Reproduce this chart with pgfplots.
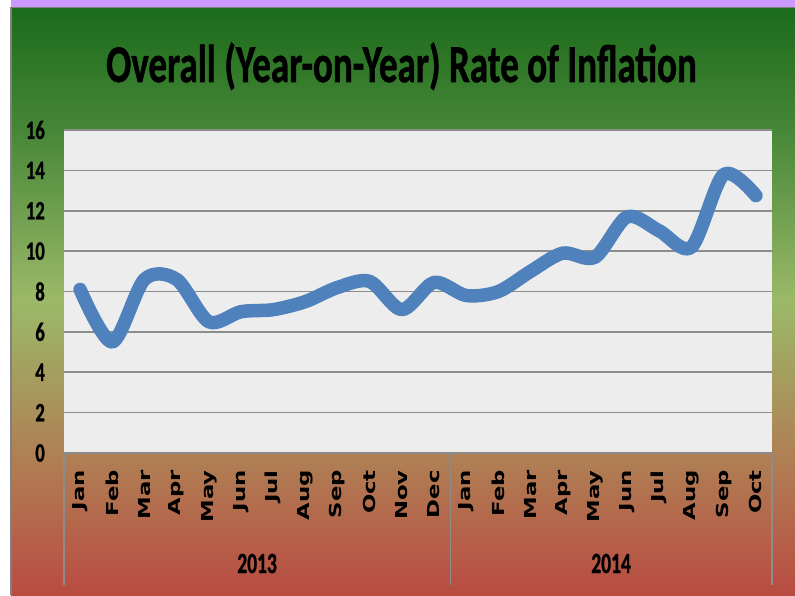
\documentclass[border=0pt]{standalone}
\usepackage{pgfplots}
\pgfplotsset{compat=1.18}
\usepackage{fontspec}
\newfontfamily\carlito[BoldFeatures={FakeBold=1.2}]{Carlito}
\newfontfamily\dejavu{DejaVu Sans}
\definecolor{linecol}{RGB}{79,129,189}
\definecolor{plotbg}{RGB}{237,237,237}
\definecolor{gridcol}{RGB}{140,140,140}
\definecolor{purplestrip}{RGB}{204,153,255}
\newcommand{\mlab}[1]{\scalebox{1.38}[1]{\dejavu\bfseries\fontsize{16.5}{18}\selectfont #1}}
\pgfdeclareverticalshading{chartbg}{100bp}{%
  rgb(0bp)=(0.725,0.294,0.255);
  rgb(25bp)=(0.725,0.294,0.255);
  rgb(37.35bp)=(0.686,0.510,0.333);
  rgb(50.1bp)=(0.608,0.725,0.412);
  rgb(64.6bp)=(0.275,0.529,0.216);
  rgb(75bp)=(0.106,0.420,0.106);
  rgb(100bp)=(0.106,0.420,0.106)}
\begin{document}
\begin{tikzpicture}[x=1pt,y=1pt]
\useasboundingbox (0,0) rectangle (795,595);
\fill[white] (0,0) rectangle (795,595);
\fill[purplestrip] (11,587) rectangle (795,595);
\shade[shading=chartbg] (11,0) rectangle (795,587);
\draw[gray, line width=1.2pt] (11,0) -- (11,587.5) -- (795,587.5);
\node[anchor=base] at (401.5,513) {\scalebox{1.01}[1.45]{\carlito\bfseries\fontsize{36.7}{40}\selectfont Overall (Year-on-Year) Rate of Inflation}};
\begin{axis}[
  at={(64pt,142pt)}, anchor=south west,
  width=708pt, height=323pt, scale only axis,
  xmin=-0.5, xmax=21.5, ymin=0, ymax=16,
  axis line style={draw=none},
  axis background/.style={fill=plotbg},
  xtick={0,...,21},
  xticklabels={\mlab{Jan},\mlab{Feb},\mlab{Mar},\mlab{Apr},\mlab{May},\mlab{Jun},\mlab{Jul},\mlab{Aug},\mlab{Sep},\mlab{Oct},\mlab{Nov},\mlab{Dec},\mlab{Jan},\mlab{Feb},\mlab{Mar},\mlab{Apr},\mlab{May},\mlab{Jun},\mlab{Jul},\mlab{Aug},\mlab{Sep},\mlab{Oct}},
  xticklabel style={inner sep=0pt, anchor=east, yshift=-17pt, rotate=90},
  ytick={0,2,...,16},
  yticklabel={\scalebox{1}[1.42]{\carlito\bfseries\fontsize{18.7}{20}\selectfont\pgfmathprintnumber[assume math mode=true]{\tick}}},
  yticklabel style={inner sep=0pt, anchor=east, xshift=-19pt},
  major tick length=0pt,
  ymajorgrids,
  major grid style={gridcol, line width=1.6pt},
  clip=false,
]
\addplot[linecol, line width=13.5pt, line cap=round, line join=round, smooth, tension=0.5] coordinates {
(0,8.1) (1,5.5) (2,8.6) (3,8.6) (4,6.5) (5,7.0) (6,7.1) (7,7.5) (8,8.2) (9,8.5) (10,7.1) (11,8.45)
(12,7.8) (13,8.0) (14,9.0) (15,9.9) (16,9.7) (17,11.7) (18,11.0) (19,10.2) (20,13.8) (21,12.75)
};
\draw[gridcol, line width=2.5pt] (axis cs:-0.5,0) -- (axis cs:21.5,0);
\draw[gridcol, line width=1.2pt] (axis cs:-0.5,0) -- ++(0pt,-132pt);
\draw[gridcol, line width=1.2pt] (axis cs:11.5,0) -- ++(0pt,-132pt);
\draw[gridcol, line width=1.2pt] (axis cs:21.5,0) -- ++(0pt,-132pt);
\node[anchor=base] at ([yshift=-120pt]axis cs:5.5,0) {\scalebox{1}[1.5]{\carlito\bfseries\fontsize{19.5}{21}\selectfont 2013}};
\node[anchor=base] at ([yshift=-120pt]axis cs:16.5,0) {\scalebox{1}[1.5]{\carlito\bfseries\fontsize{19.5}{21}\selectfont 2014}};
\end{axis}
\end{tikzpicture}
\end{document}
